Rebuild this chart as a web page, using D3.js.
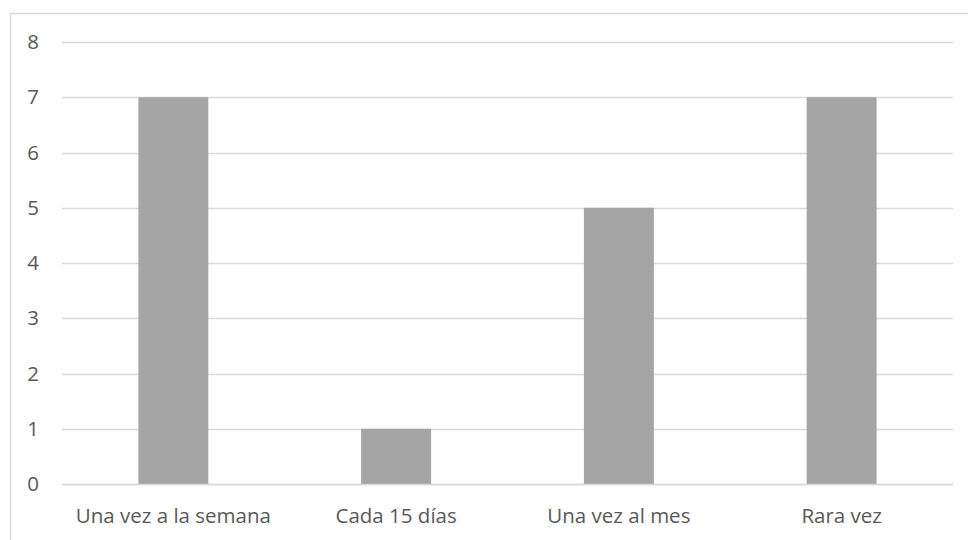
<!DOCTYPE html>
<html><head><meta charset="utf-8">
<script src="https://cdn.jsdelivr.net/npm/d3@7"></script>
<style>body{margin:0;background:#fff}svg{display:block}</style>
</head><body>
<svg id="c" width="968" height="540"></svg>
<script>
const categories = ["Una vez a la semana", "Cada 15 días", "Una vez al mes", "Rara vez"];
const values = [7, 1, 5, 7];
const yTicks = [0, 1, 2, 3, 4, 5, 6, 7, 8];

const svg = d3.select("#c");
const font = "'Open Sans', sans-serif";
const textColor = "#595959";
const fontSize = 20.5;

// chart border
svg.append("rect").attr("x", 10.5).attr("y", 13.5).attr("width", 970).attr("height", 540)
  .attr("fill", "none").attr("stroke", "#d9d9d9").attr("stroke-width", 1.5);

const x = d3.scaleBand().domain(categories).range([62, 953]).paddingInner(0.686).paddingOuter(0.343);
const y = d3.scaleLinear().domain([0, 8]).range([484, 42]);

const g = svg.append("g");
g.selectAll("line.grid").data(yTicks).join("line")
  .attr("x1", 62).attr("x2", 953)
  .attr("y1", d => Math.round(y(d)) + 0.5).attr("y2", d => Math.round(y(d)) + 0.5)
  .attr("stroke", "#d9d9d9").attr("stroke-width", 1.3);

g.selectAll("rect.bar").data(values).join("rect")
  .attr("x", (d, i) => x(categories[i]))
  .attr("width", x.bandwidth())
  .attr("y", d => y(d))
  .attr("height", d => y(0) - y(d))
  .attr("fill", "#a5a5a5");

g.append("line").attr("x1", 62).attr("x2", 953).attr("y1", Math.round(y(0)) + 0.5).attr("y2", Math.round(y(0)) + 0.5)
  .attr("stroke", "#d9d9d9").attr("stroke-width", 1.3);

g.selectAll("text.yl").data(yTicks).join("text")
  .attr("x", 39).attr("y", d => y(d) + 7)
  .attr("text-anchor", "end").attr("fill", textColor)
  .style("font-family", font).style("font-size", fontSize + "px").text(d => d);

g.selectAll("text.xl").data(categories).join("text")
  .attr("x", d => x(d) + x.bandwidth() / 2).attr("y", 523)
  .attr("text-anchor", "middle").attr("fill", textColor)
  .style("font-family", font).style("font-size", fontSize + "px").text(d => d);
</script>
</body></html>
